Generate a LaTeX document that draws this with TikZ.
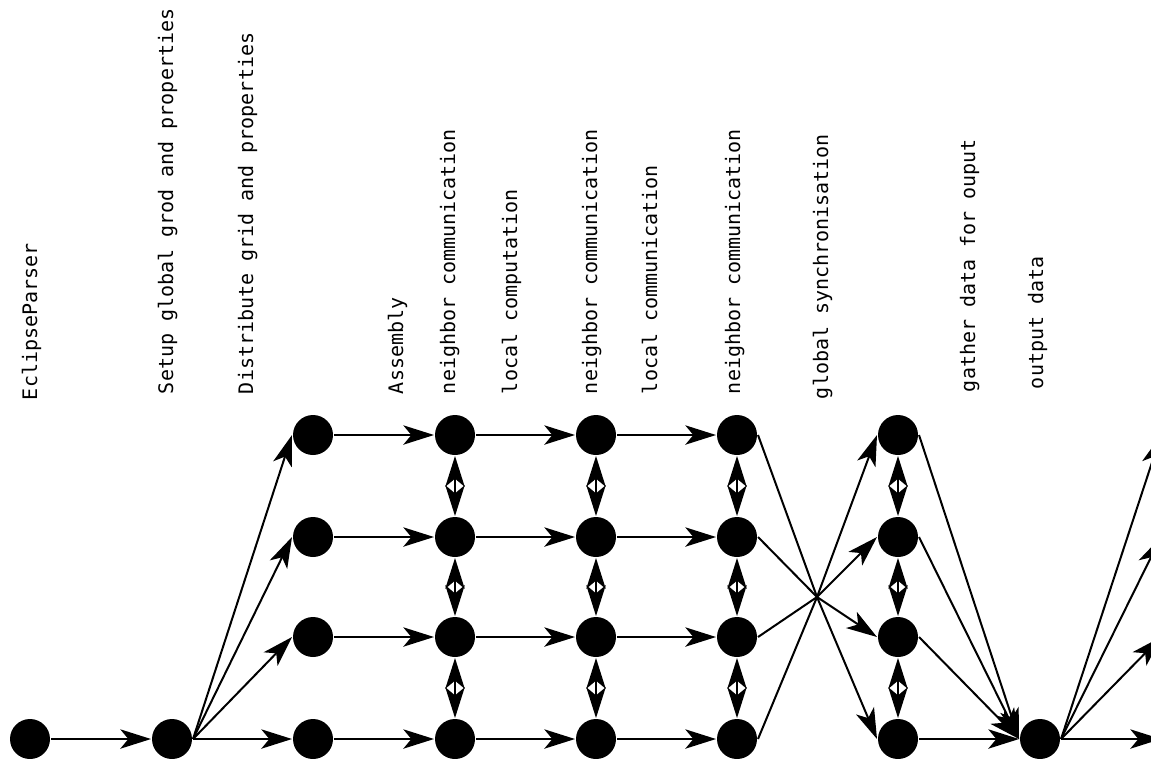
\documentclass[tikz,border=0pt]{standalone}
\usepackage{fontspec}
\setmonofont{DejaVu Sans Mono}
\usepackage{tikz}
\usetikzlibrary{arrows.meta}

\begin{document}
\begin{tikzpicture}[x=0.75pt, y=-0.75pt, line width=1.5pt,
         >={Stealth[length=23pt, width=14.5pt, inset=6pt]},
         dot/.style={
         % The shape:
         circle,
         % The size:
         minimum size=30pt, inner sep=0pt,
         % The filling
         fill=black, draw=none},
         lbl/.style={rotate=90, anchor=base west, inner sep=0pt,
         % Font
         font=\ttfamily\fontsize{15}{18}\selectfont}]
            \useasboundingbox (0,0) rectangle (1151,758);
            \clip (0,0) rectangle (1151,758);
            % stage labels
            \node[lbl] (lparser) at (37,401) {EclipseParser};
            \node[lbl] (lsetup) at (173,395) {Setup global grod and properties};
            \node[lbl] (ldist) at (253,395) {Distribute grid and properties};
            \node[lbl] (lasm) at (403,395) {Assembly};
            \node[lbl] (lnbA) at (455,395) {neighbor communication};
            \node[lbl] (llcomp) at (517,395) {local computation};
            \node[lbl] (lnbB) at (597,395) {neighbor communication};
            \node[lbl] (llcomm) at (657,395) {local communication};
            \node[lbl] (lnbC) at (740,395) {neighbor communication};
            \node[lbl] (lsync) at (828,400) {global synchronisation};
            \node[lbl] (lgather) at (975,393) {gather data for ouput};
            \node[lbl] (lout) at (1043,390) {output data};
            % processes
            \node[dot] (n0) at (30,739) {};
            \node[dot] (n1) at (172,739) {};
            \foreach \c/\x in {2/313,3/455,4/596,5/737,6/898} {
                \foreach \r/\y in {1/435,2/537,3/637,4/739} {
                    \node[dot] (n\c\r) at (\x,\y) {};
                };
            };
            \node[dot] (n7) at (1040,739) {};
            \coordinate (sync) at (817,597);
            \foreach \r/\y in {1/435,2/537,3/637,4/739} {
                \coordinate (out\r) at (1161,\y);
            };
            % connections
            \draw [->] (n0.east) -- (n1.west);
            \foreach \r in {1,...,4} {
                \draw [->] (n1.east) -- (n2\r.west);
                \draw [->] (n2\r.east) -- (n3\r.west);
                \draw [->] (n3\r.east) -- (n4\r.west);
                \draw [->] (n4\r.east) -- (n5\r.west);
                \draw (n5\r.east) -- (sync);
                \draw [->] (sync) -- (n6\r.west);
                \draw [->] (n6\r.east) -- (n7.west);
                \draw [->] (n7.east) -- (out\r);
            };
            \foreach \c in {3,4,5,6} {
                \foreach \r/\s in {1/2,2/3,3/4} {
                    \draw [<->] (n\c\r.south) -- (n\c\s.north);
                };
            };
      \end{tikzpicture}
\end{document}
